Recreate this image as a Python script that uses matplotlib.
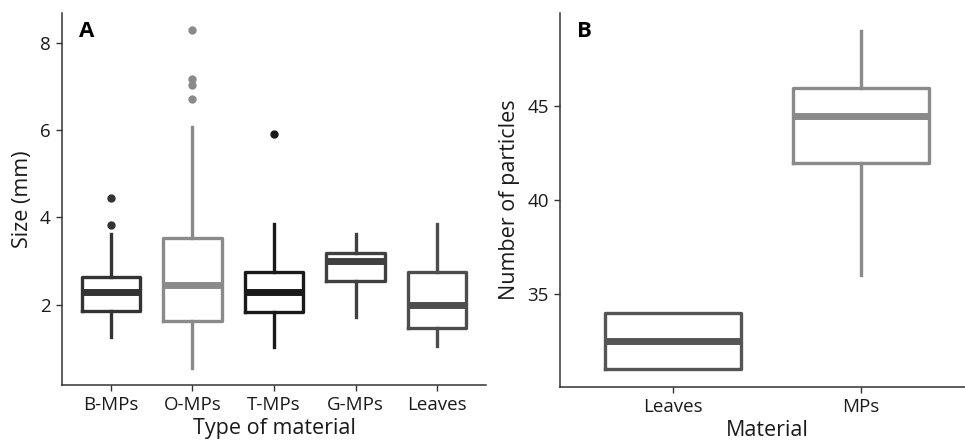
import matplotlib
matplotlib.use("Agg")
import matplotlib.pyplot as plt

plt.rcParams['font.family'] = ['Open Sans', 'DejaVu Sans']

# panel A: size by material type (box stats)
cats_a = ["B-MPs", "O-MPs", "T-MPs", "G-MPs", "Leaves"]
whislo_a = [1.26, 0.55, 1.04, 1.71, 1.06]
q1_a = [1.86, 1.63, 1.84, 2.54, 1.47]
med_a = [2.30, 2.44, 2.30, 3.01, 2.00]
q3_a = [2.64, 3.54, 2.74, 3.19, 2.75]
whishi_a = [3.63, 6.07, 3.86, 3.61, 3.84]
fliers_a = [[3.82, 4.44], [6.71, 7.03, 7.18, 8.31], [5.91], [], []]
colors_a = ["#333333", "#8a8a8a", "#1a1a1a", "#404040", "#4d4d4d"]

# panel B: number of particles
cats_b = ["Leaves", "MPs"]
whislo_b = [31.0, 36.0]
q1_b = [31.0, 42.0]
med_b = [32.5, 44.5]
q3_b = [34.0, 46.0]
whishi_b = [34.0, 49.0]
colors_b = ["#555555", "#8a8a8a"]

fig = plt.figure(figsize=(9.65, 4.46), dpi=100)
axA = fig.add_axes([0.0642, 0.137, 0.4394, 0.834])
axB = fig.add_axes([0.5803, 0.132, 0.429, 0.839])


def draw(ax, cats, lo, q1, med, q3, hi, fliers, colors):
    for i in range(len(cats)):
        st = dict(whislo=lo[i], q1=q1[i], med=med[i], q3=q3[i], whishi=hi[i],
                  fliers=fliers[i], label=cats[i])
        c = colors[i]
        ax.bxp([st], positions=[i + 1], widths=0.72, showcaps=False,
               boxprops=dict(color=c, linewidth=2.4),
               whiskerprops=dict(color=c, linewidth=2.4),
               medianprops=dict(color=c, linewidth=5, solid_capstyle='butt'),
               flierprops=dict(marker='o', markerfacecolor=c, markeredgecolor=c,
                               markersize=5))
    ax.set_xlim(0.4, len(cats) + 0.6)
    for s in ['top', 'right']:
        ax.spines[s].set_visible(False)
    for s in ['left', 'bottom']:
        ax.spines[s].set_color('#333333')
        ax.spines[s].set_linewidth(1.1)
    ax.tick_params(axis='both', length=4, width=1, color='#333333',
                   labelsize=13.5, labelcolor='#1a1a1a', pad=4)


draw(axA, cats_a, whislo_a, q1_a, med_a, q3_a, whishi_a, fliers_a, colors_a)
axA.set_ylim(0.16, 8.69)
axA.set_yticks([2, 4, 6, 8])
axA.set_xlabel("Type of material", fontsize=15.5, color='#1a1a1a', labelpad=3)
axA.set_ylabel("Size (mm)", fontsize=15.5, color='#1a1a1a', labelpad=5)
axA.text(0.04, 0.95, "A", transform=axA.transAxes, fontsize=16,
         fontweight='bold', va='center', ha='left')

draw(axB, cats_b, whislo_b, q1_b, med_b, q3_b, whishi_b, [[], []], colors_b)
axB.set_ylim(30.05, 49.98)
axB.set_yticks([35, 40, 45])
axB.set_xlabel("Material", fontsize=15.5, color='#1a1a1a', labelpad=3)
axB.set_ylabel("Number of particles", fontsize=15.5, color='#1a1a1a', labelpad=5)
axB.text(0.04, 0.95, "B", transform=axB.transAxes, fontsize=16,
         fontweight='bold', va='center', ha='left')

fig.savefig("out.png", dpi=100)
